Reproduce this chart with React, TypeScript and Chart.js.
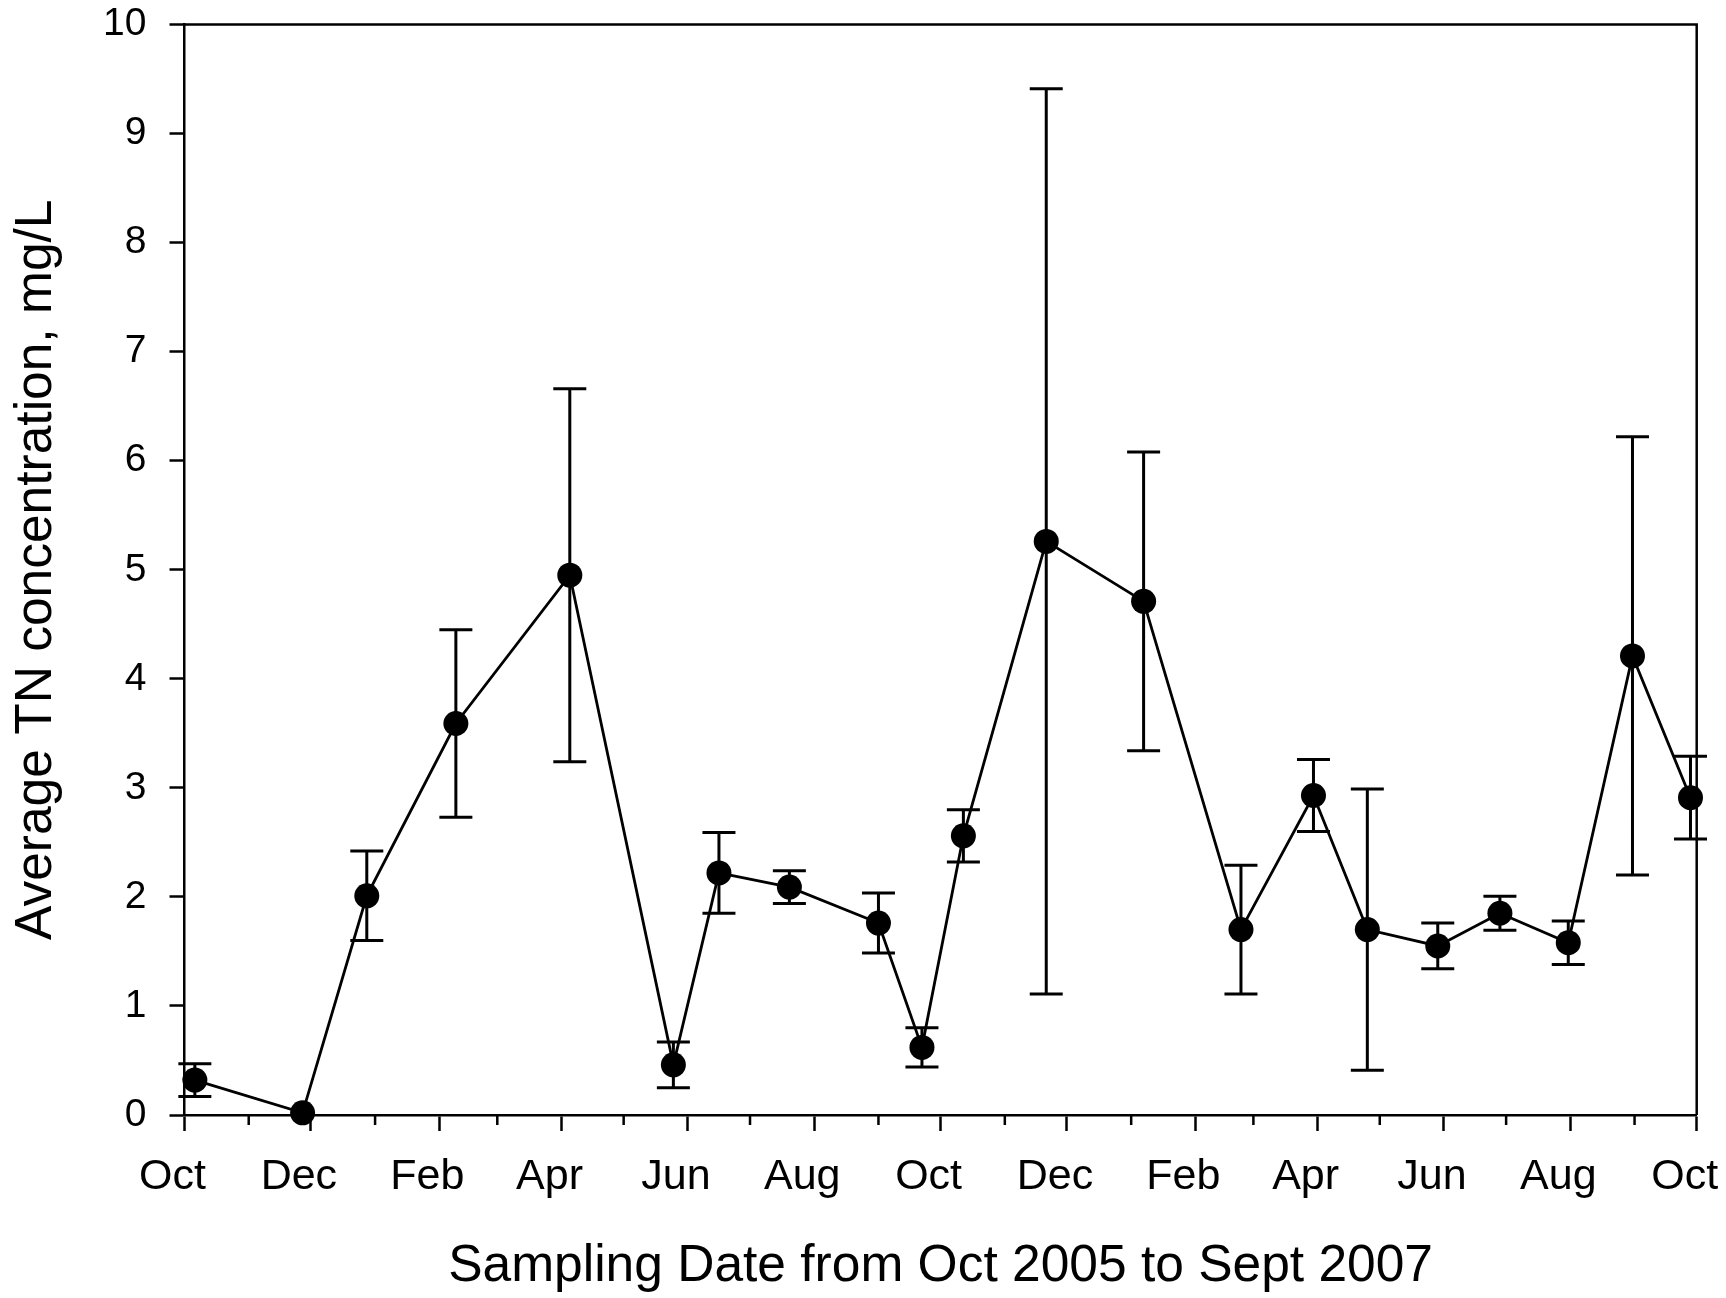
import { useEffect, useRef } from 'react';
import { Chart, registerables } from 'chart.js';

Chart.register(...registerables);

// Sampling dates (ISO, UTC) and the average TN concentration with its spread, mg/L
const sampleDates = [
  '2005-10-06', '2005-11-27', '2005-12-28', '2006-02-09', '2006-04-05',
  '2006-05-25', '2006-06-16', '2006-07-20', '2006-09-01', '2006-09-22',
  '2006-10-12', '2006-11-21', '2007-01-07', '2007-02-23', '2007-03-30',
  '2007-04-25', '2007-05-29', '2007-06-28', '2007-07-31', '2007-08-31',
  '2007-09-28',
];
const meanTN = [
  0.32, 0.02, 2.01, 3.59, 4.95,
  0.46, 2.22, 2.09, 1.76, 0.62,
  2.56, 5.26, 4.71, 1.70, 2.93,
  1.70, 1.55, 1.85, 1.58, 4.21,
  2.91,
];
const spreadTN = [
  0.15, 0, 0.41, 0.86, 1.71,
  0.21, 0.37, 0.15, 0.275, 0.18,
  0.24, 4.15, 1.37, 0.59, 0.33,
  1.29, 0.21, 0.155, 0.20, 2.01,
  0.38,
];

// Axis ticks: monthly from Oct 2005 to Oct 2007, every second month labelled
const axisStart = '2005-10-01';
const axisMonths = 24;
const monthLabels = ['Oct', 'Dec', 'Feb', 'Apr', 'Jun', 'Aug', 'Oct', 'Dec', 'Feb', 'Apr', 'Jun', 'Aug', 'Oct'];
const yTicks = [0, 1, 2, 3, 4, 5, 6, 7, 8, 9, 10];

const FONT = '"Liberation Sans", Arial, Helvetica, sans-serif';
const DAY_MS = 86400000;
const originMs = Date.parse(axisStart + 'T00:00:00Z');
const dayOf = (iso: string) => Math.round((Date.parse(iso + 'T00:00:00Z') - originMs) / DAY_MS);

const startDate = new Date(originMs);
const monthStartDays: number[] = [];
for (let i = 0; i <= axisMonths; i++) {
  const ms = Date.UTC(startDate.getUTCFullYear(), startDate.getUTCMonth() + i, 1);
  monthStartDays.push(Math.round((ms - originMs) / DAY_MS));
}
const majorDays = monthStartDays.filter((_, i) => i % 2 === 0);
const minorDays = monthStartDays.filter((_, i) => i % 2 === 1);

const points = sampleDates.map((d, i) => ({ x: dayOf(d), y: meanTN[i] }));

const W = 1726;
const H = 1298;

const framePlugin = {
  id: 'frameAndMinorTicks',
  afterDraw(chart: any) {
    const { ctx, chartArea, scales } = chart;
    ctx.save();
    ctx.strokeStyle = '#000';
    ctx.lineWidth = 2.5;
    ctx.lineCap = 'butt';
    // top and right edges of the plot box
    ctx.beginPath();
    ctx.moveTo(chartArea.left, chartArea.top);
    ctx.lineTo(chartArea.right, chartArea.top);
    ctx.lineTo(chartArea.right, chartArea.bottom);
    ctx.stroke();
    // short minor ticks at the unlabelled months
    ctx.beginPath();
    minorDays.forEach((d) => {
      const x = scales.x.getPixelForValue(d);
      ctx.moveTo(x, chartArea.bottom);
      ctx.lineTo(x, chartArea.bottom + 10);
    });
    ctx.stroke();
    ctx.restore();
  },
};

const errorBarPlugin = {
  id: 'errorBars',
  beforeDatasetsDraw(chart: any) {
    const { ctx, scales } = chart;
    const xs = scales.x;
    const ys = scales.y;
    ctx.save();
    ctx.strokeStyle = '#000';
    ctx.lineWidth = 3;
    ctx.beginPath();
    points.forEach((p, i) => {
      const s = spreadTN[i];
      if (!s) return;
      const x = xs.getPixelForValue(p.x);
      const yHi = ys.getPixelForValue(p.y + s);
      const yLo = ys.getPixelForValue(p.y - s);
      const cap = 16.5;
      ctx.moveTo(x, yHi);
      ctx.lineTo(x, yLo);
      ctx.moveTo(x - cap, yHi);
      ctx.lineTo(x + cap, yHi);
      ctx.moveTo(x - cap, yLo);
      ctx.lineTo(x + cap, yLo);
    });
    ctx.stroke();
    ctx.restore();
  },
};

export default function App() {
  const canvasRef = useRef<HTMLCanvasElement | null>(null);

  useEffect(() => {
    document.body.style.margin = '0';
    const canvas = canvasRef.current;
    if (!canvas) return;
    const chart = new Chart(canvas, {
      type: 'line',
      data: {
        datasets: [
          {
            data: points,
            borderColor: '#000',
            borderWidth: 2.8,
            backgroundColor: '#000',
            pointRadius: 12.5,
            pointHoverRadius: 12.5,
            pointBackgroundColor: '#000',
            pointBorderWidth: 0,
            tension: 0,
            clip: false as any,
          },
        ],
      },
      options: {
        responsive: false,
        animation: false,
        devicePixelRatio: 1,
        layout: { padding: { top: 24.5, right: 29.3, left: 0, bottom: 0 } },
        plugins: {
          legend: { display: false },
          tooltip: { enabled: false },
        },
        scales: {
          x: {
            type: 'linear',
            min: 0,
            max: monthStartDays[monthStartDays.length - 1],
            afterBuildTicks: (scale: any) => {
              scale.ticks = majorDays.map((v) => ({ value: v }));
            },
            afterFit: (scale: any) => {
              scale.height = 183;
              scale.paddingLeft = 0;
              scale.paddingRight = 0;
            },
            grid: {
              display: true,
              drawOnChartArea: false,
              drawTicks: true,
              tickLength: 16,
              tickWidth: 2.5,
              tickColor: '#000',
            },
            border: { display: true, color: '#000', width: 2.5 },
            ticks: {
              autoSkip: false,
              maxRotation: 0,
              minRotation: 0,
              padding: 20,
              labelOffset: -12,
              color: '#000',
              font: { family: FONT, size: 43 },
              callback: (_v: any, i: number) => monthLabels[i] ?? '',
            },
            title: {
              display: true,
              text: 'Sampling Date from Oct 2005 to Sept 2007',
              color: '#000',
              font: { family: FONT, size: 51.5 },
              padding: { top: 0, bottom: 0 },
            },
          },
          y: {
            type: 'linear',
            min: 0,
            max: 10,
            afterBuildTicks: (scale: any) => {
              scale.ticks = yTicks.map((v) => ({ value: v }));
            },
            afterFit: (scale: any) => {
              scale.width = 184.5;
              scale.paddingTop = 0;
              scale.paddingBottom = 0;
            },
            grid: {
              display: true,
              drawOnChartArea: false,
              drawTicks: true,
              tickLength: 15,
              tickWidth: 2.5,
              tickColor: '#000',
            },
            border: { display: true, color: '#000', width: 2.5 },
            ticks: {
              padding: 23,
              color: '#000',
              font: { family: FONT, size: 39 },
            },
            title: {
              display: true,
              text: 'Average TN concentration, mg/L',
              color: '#000',
              font: { family: FONT, size: 51.5 },
              padding: { top: 6, bottom: 0 },
            },
          },
        },
      },
      plugins: [errorBarPlugin, framePlugin],
    } as any);
    return () => chart.destroy();
  }, []);

  return (
    <div style={{ width: W, height: H, background: '#fff' }}>
      <canvas ref={canvasRef} width={W} height={H} style={{ display: 'block', width: W, height: H }} />
    </div>
  );
}
